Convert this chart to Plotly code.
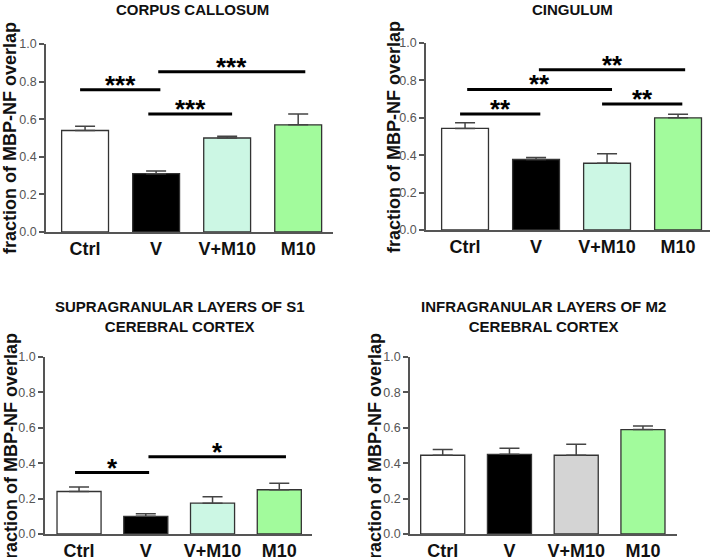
import plotly.graph_objects as go

categories = ["Ctrl", "V", "V+M10", "M10"]

titles = [
    "CORPUS CALLOSUM",
    "CINGULUM",
    "SUPRAGRANULAR LAYERS OF S1<br>CEREBRAL CORTEX",
    "INFRAGRANULAR LAYERS OF M2<br>CEREBRAL CORTEX",
]

# mean values per panel
cc_values = [0.54, 0.31, 0.50, 0.57]
cing_values = [0.543, 0.377, 0.357, 0.60]
s1_values = [0.24, 0.10, 0.174, 0.25]
m2_values = [0.445, 0.45, 0.445, 0.59]

# upper error (SEM) per panel
cc_err = [0.022, 0.014, 0.009, 0.058]
cing_err = [0.030, 0.011, 0.051, 0.019]
s1_err = [0.025, 0.015, 0.036, 0.037]
m2_err = [0.032, 0.035, 0.062, 0.020]

# bar fill colours per panel
colors_main = ["#ffffff", "#000000", "#ccf7e4", "#a2fb9c"]
colors_m2 = ["#ffffff", "#000000", "#d4d4d4", "#a2fb9c"]

# significance bars: (x start, x end, y level, label) in category units
cc_sig = [(-0.07, 1.06, 0.756, "***"), (1.03, 3.10, 0.853, "***"), (0.89, 2.07, 0.628, "***")]
cing_sig = [(-0.07, 1.06, 0.620, "**"), (0.03, 2.07, 0.752, "**"),
            (1.04, 3.10, 0.857, "**"), (1.93, 3.06, 0.674, "**")]
s1_sig = [(-0.06, 1.05, 0.347, "*"), (1.04, 3.10, 0.437, "*")]
m2_sig = []

panels = [
    dict(values=cc_values, err=cc_err, colors=colors_main, sig=cc_sig,
         px=(46, 333), py=(44, 232), xr=(-0.55, 3.49), title_xy=(192, 10), ylab_xy=(10, 138)),
    dict(values=cing_values, err=cing_err, colors=colors_main, sig=cing_sig,
         px=(426, 710), py=(43, 230), xr=(-0.55, 3.45), title_xy=(572, 10), ylab_xy=(394, 137)),
    dict(values=s1_values, err=s1_err, colors=colors_main, sig=s1_sig,
         px=(45, 312), py=(357, 534), xr=(-0.51, 3.49), title_xy=(179, 316), ylab_xy=(11, 449)),
    dict(values=m2_values, err=m2_err, colors=colors_m2, sig=m2_sig,
         px=(410, 677), py=(357, 534), xr=(-0.49, 3.51), title_xy=(543, 316), ylab_xy=(375, 449)),
]

W, H = 714, 557
FONT = "Liberation Sans, Arial, sans-serif"

fig = go.Figure()
layout = dict(
    template="none",
    width=W, height=H, autosize=False,
    margin=dict(l=0, r=0, t=0, b=0, pad=0),
    paper_bgcolor="white", plot_bgcolor="white",
    showlegend=False,
    font=dict(family=FONT),
)
shapes = []
annotations = []

for i, p in enumerate(panels):
    n = "" if i == 0 else str(i + 1)
    xa, ya = "x" + n, "y" + n
    fig.add_trace(go.Bar(
        x=list(range(len(categories))), y=p["values"],
        xaxis=xa, yaxis=ya, width=0.66,
        marker=dict(color=p["colors"], line=dict(color="#333333", width=1.3)),
        error_y=dict(type="data", array=p["err"], arrayminus=[0] * len(p["err"]),
                     symmetric=False, color="#444444", thickness=1.5, width=10),
    ))
    layout["xaxis" + n] = dict(
        domain=[p["px"][0] / W, p["px"][1] / W], anchor=ya, automargin=False,
        range=list(p["xr"]), tickvals=list(range(len(categories))), ticktext=categories,
        showline=True, linecolor="#555555", linewidth=1.5, ticks="", showgrid=False,
        zeroline=False, tickfont=dict(size=18, color="#111111", family=FONT, weight="bold"),
    )
    layout["yaxis" + n] = dict(
        domain=[1 - p["py"][1] / H, 1 - p["py"][0] / H], anchor=xa, automargin=False,
        range=[0, 1], tickvals=[0, 0.2, 0.4, 0.6, 0.8, 1.0], tickformat=".1f",
        showline=True, linecolor="#555555", linewidth=1.5, ticks="outside", ticklen=5,
        tickcolor="#555555", tickwidth=1.5, showgrid=False, zeroline=False,
        tickfont=dict(size=12.5, color="#555555", family=FONT),
    )
    for (x0, x1, yv, lab) in p["sig"]:
        shapes.append(dict(type="line", xref=xa, yref=ya, x0=x0, x1=x1, y0=yv, y1=yv,
                           line=dict(color="black", width=3)))
        annotations.append(dict(xref=xa, yref=ya, x=(x0 + x1) / 2, y=yv, text=lab,
                                showarrow=False, yanchor="middle", yshift=5,
                                font=dict(size=26, color="black", family=FONT, weight="bold")))
    tx, ty = p["title_xy"]
    annotations.append(dict(xref="paper", yref="paper", x=tx / W, y=1 - ty / H,
                            text=titles[i], showarrow=False, xanchor="center", yanchor="middle",
                            font=dict(size=15, color="#111111", family=FONT, weight="bold")))
    lx, ly = p["ylab_xy"]
    annotations.append(dict(xref="paper", yref="paper", x=lx / W, y=1 - ly / H,
                            text="fraction of MBP-NF overlap", showarrow=False, textangle=-90,
                            xanchor="center", yanchor="middle",
                            font=dict(size=18, color="#111111", family=FONT, weight="bold")))

layout["shapes"] = shapes
layout["annotations"] = annotations
fig.update_layout(**layout)
fig.write_html("out.html", config={"displayModeBar": False},
               post_script="document.body.style.margin='0';document.body.style.overflow='hidden';")
